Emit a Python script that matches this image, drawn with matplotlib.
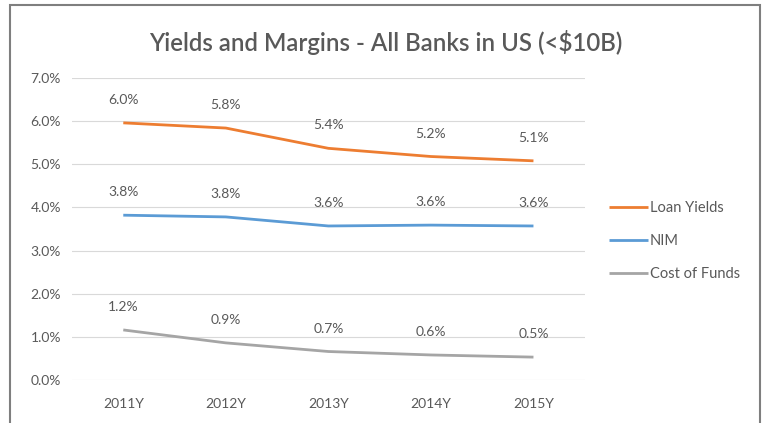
import matplotlib.pyplot as plt
from matplotlib.patches import Rectangle

years = ["2011Y", "2012Y", "2013Y", "2014Y", "2015Y"]
loan_yields = [5.96, 5.84, 5.37, 5.18, 5.08]
nim = [3.82, 3.78, 3.57, 3.59, 3.57]
cost_of_funds = [1.16, 0.86, 0.66, 0.58, 0.53]

series = [("Loan Yields", loan_yields, "#ED7D31"),
          ("NIM", nim, "#5B9BD5"),
          ("Cost of Funds", cost_of_funds, "#A5A5A5")]

plt.rcParams['font.family'] = ['Lato', 'DejaVu Sans']
txt = "#595959"

fig = plt.figure(figsize=(7.71, 4.23), dpi=100)
ax = fig.add_axes([0.0934, 0.1017, 0.665, 0.7139])

x = list(range(len(years)))
for name, vals, col in series:
    ax.plot(x, vals, color=col, lw=2.0, label=name, solid_capstyle='butt')
    for xi, v in zip(x, vals):
        ax.annotate("%.1f%%" % v, (xi, v), xytext=(0, 16.5), textcoords='offset points',
                    ha='center', va='center', fontsize=10, color=txt)

ax.set_xlim(-0.5, len(years) - 0.5)
ax.set_ylim(0, 7)
ax.set_yticks(range(0, 8))
ax.set_yticklabels(["%.1f%%" % t for t in range(0, 8)])
ax.set_xticks(x)
ax.set_xticklabels(years)
ax.tick_params(length=0, labelsize=10, labelcolor=txt, pad=13)
ax.tick_params(axis='y', pad=8)
ax.grid(axis='y', color='#D9D9D9', lw=0.8)
ax.set_axisbelow(True)
for s in ax.spines.values():
    s.set_visible(False)

fig.text(0.5, 0.9, "Yields and Margins - All Banks in US (<$10B)", ha='center', va='center',
         fontsize=17.3, fontweight='semibold', color=txt)

leg = fig.legend(loc='center left', bbox_to_anchor=(0.773, 0.43), frameon=False,
                 fontsize=10.5, handlelength=2.7, handletextpad=0.1, labelspacing=1.3,
                 labelcolor=txt)

fig.patches.append(Rectangle((10 / 771, -0.1), 750 / 771, 1.0 - 5 / 423 + 0.1,
                             transform=fig.transFigure, fill=False, edgecolor='#7F7F7F', lw=1.5))

plt.savefig("out.png", dpi=100)
